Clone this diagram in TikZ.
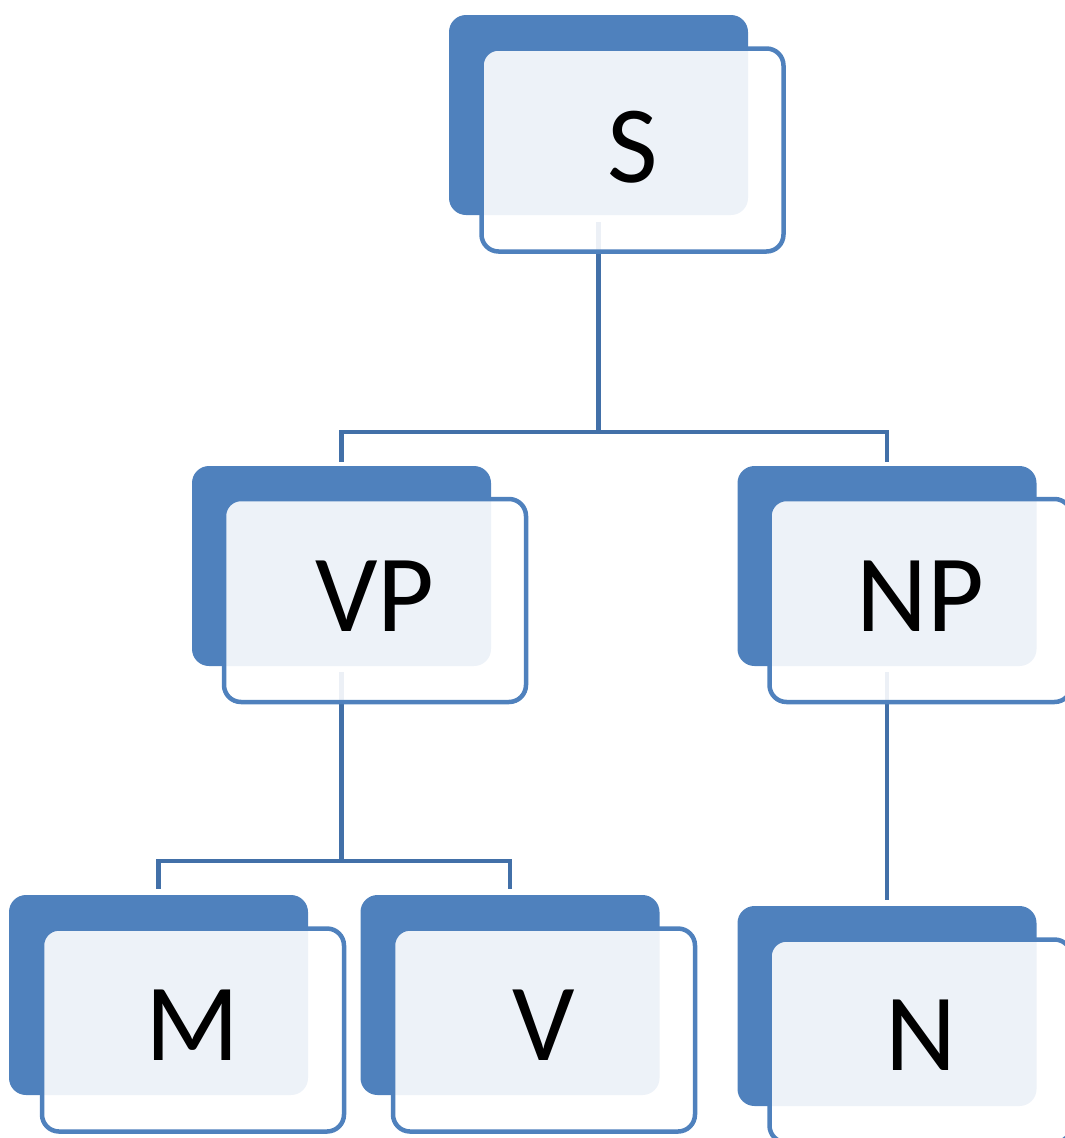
\documentclass[tikz,border=0pt]{standalone}
\usepackage{fontspec}
\setmainfont{Carlito}
\definecolor{accent}{HTML}{4F81BD}
\definecolor{linkblue}{HTML}{4270A8}
\begin{document}
\begin{tikzpicture}[x=1pt,y=-1pt,
  backbox/.style={fill=accent, draw=none, rounded corners=17pt,
    minimum width=299pt, minimum height=200pt, inner sep=0pt},
  frontbox/.style={fill=white, fill opacity=0.9, text opacity=1,
    draw=accent, draw opacity=1, line width=4.5pt, rounded corners=17pt,
    minimum width=302pt, minimum height=203pt, inner sep=0pt},
  cardtext/.style={font=\fontsize{110}{114}\selectfont, inner sep=0pt},
  conn/.style={draw=linkblue, line width=4.5pt}]
\useasboundingbox (0,0) rectangle (1065,1138);
\clip (0,0) rectangle (1065,1138);

% dark back plates
\node[backbox] (S)  at (598.5,115) {};
\node[backbox] (VP) at (341.5,566) {};
\node[backbox] (NP) at (887,566) {};
\node[backbox] (M)  at (158.5,995) {};
\node[backbox] (V)  at (510,995) {};
\node[backbox] (N)  at (887,1006) {};

% tree links
\coordinate (jS) at (598.5,432);
\coordinate (jVP) at (341.5,861);
\draw[conn] ([yshift=-7pt]S.south) -- (jS);
\draw[conn] ([yshift=4pt]VP.north) -- (VP.north |- jS) -- (NP.north |- jS) -- ([yshift=4pt]NP.north);
\draw[conn] ([yshift=-6pt]VP.south) -- (jVP);
\draw[conn] ([yshift=6pt]M.north) -- (M.north |- jVP) -- (V.north |- jVP) -- ([yshift=6pt]V.north);
\draw[conn] ([yshift=-6pt]NP.south) -- ([yshift=6pt]N.north);

% light front cards
\node[frontbox] (Sf)  at (632.5,150) {};
\node[frontbox] (VPf) at (375,600.5) {};
\node[frontbox] (NPf) at (920.5,600.5) {};
\node[frontbox] (Mf)  at (193,1030) {};
\node[frontbox] (Vf)  at (544,1030) {};
\node[frontbox] (Nf)  at (920.5,1041) {};

% card labels
\node[cardtext] (St)  at ([yshift=3pt]Sf.center)  {S};
\node[cardtext] (VPt) at ([yshift=4pt]VPf.center) {VP};
\node[cardtext] (NPt) at ([yshift=4pt]NPf.center) {NP};
\node[cardtext] (Mt)  at ([yshift=5pt]Mf.center)  {M};
\node[cardtext] (Vt)  at ([yshift=5pt]Vf.center)  {V};
\node[cardtext] (Nt)  at ([yshift=6pt]Nf.center)  {N};
\end{tikzpicture}
\end{document}
